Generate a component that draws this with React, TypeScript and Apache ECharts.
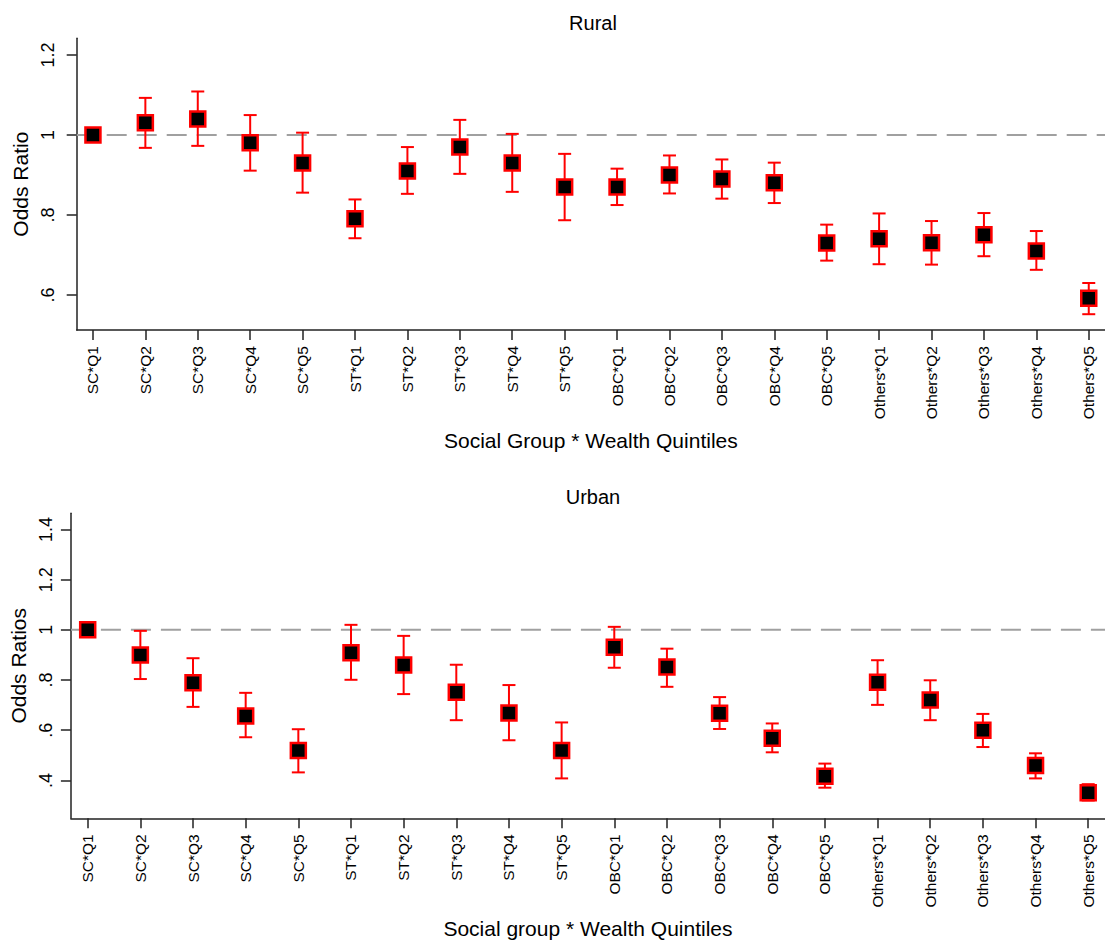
import React, { useEffect, useRef } from "react";
import * as echarts from "echarts";

const categories = [
  "SC*Q1", "SC*Q2", "SC*Q3", "SC*Q4", "SC*Q5",
  "ST*Q1", "ST*Q2", "ST*Q3", "ST*Q4", "ST*Q5",
  "OBC*Q1", "OBC*Q2", "OBC*Q3", "OBC*Q4", "OBC*Q5",
  "Others*Q1", "Others*Q2", "Others*Q3", "Others*Q4", "Others*Q5",
];

const ruralOR = [1.0, 1.031, 1.04, 0.981, 0.93, 0.791, 0.91, 0.97, 0.93, 0.87, 0.87, 0.9, 0.89, 0.881, 0.73, 0.741, 0.731, 0.751, 0.71, 0.592];
const ruralLow = [null, 0.968, 0.973, 0.911, 0.856, 0.742, 0.853, 0.903, 0.858, 0.787, 0.825, 0.854, 0.841, 0.83, 0.686, 0.677, 0.676, 0.697, 0.663, 0.552];
const ruralHigh = [null, 1.093, 1.109, 1.05, 1.006, 0.839, 0.97, 1.038, 1.003, 0.953, 0.916, 0.949, 0.939, 0.931, 0.776, 0.804, 0.785, 0.805, 0.76, 0.63];

const urbanOR = [1.0, 0.9, 0.789, 0.657, 0.519, 0.909, 0.86, 0.751, 0.669, 0.519, 0.931, 0.852, 0.668, 0.568, 0.417, 0.791, 0.72, 0.6, 0.459, 0.351];
const urbanLow = [null, 0.804, 0.693, 0.572, 0.432, 0.801, 0.744, 0.64, 0.56, 0.408, 0.849, 0.773, 0.605, 0.512, 0.371, 0.701, 0.64, 0.533, 0.408, 0.32];
const urbanHigh = [null, 0.996, 0.887, 0.749, 0.604, 1.02, 0.976, 0.861, 0.78, 0.631, 1.012, 0.925, 0.732, 0.627, 0.467, 0.879, 0.799, 0.665, 0.508, 0.385];

const ruralTicks = [0.6, 0.8, 1, 1.2];
const ruralTickLabels = [".6", ".8", "1", "1.2"];
const urbanTicks = [0.4, 0.6, 0.8, 1, 1.2, 1.4];
const urbanTickLabels = [".4", ".6", ".8", "1", "1.2", "1.4"];

const referenceValue = 1;
const FONT = "'Liberation Sans', Arial, Helvetica, sans-serif";
const positions = categories.map((_, i) => i + 1);

function tickLabel(ticks: number[], labels: string[]) {
  return (v: number) => {
    let best = 0;
    for (let i = 1; i < ticks.length; i++) {
      if (Math.abs(ticks[i] - v) < Math.abs(ticks[best] - v)) best = i;
    }
    return labels[best];
  };
}

function errorBarRender(params: any, api: any) {
  const x = api.value(0);
  const lo = api.coord([x, api.value(1)]);
  const hi = api.coord([x, api.value(2)]);
  const hw = 6.5;
  const style = { stroke: "#ff0000", lineWidth: 2 };
  return {
    type: "group",
    children: [
      { type: "line", shape: { x1: lo[0], y1: lo[1], x2: hi[0], y2: hi[1] }, style },
      { type: "line", shape: { x1: hi[0] - hw, y1: hi[1], x2: hi[0] + hw, y2: hi[1] }, style },
      { type: "line", shape: { x1: lo[0] - hw, y1: lo[1], x2: lo[0] + hw, y2: lo[1] }, style },
    ],
  };
}

export default function App() {
  const ref = useRef<HTMLDivElement>(null);
  useEffect(() => {
    if (!ref.current) return;
    const chart = echarts.init(ref.current, null, { renderer: "svg" });

    const panels = [
      {
        or: ruralOR, low: ruralLow, high: ruralHigh,
        ticks: ruralTicks, labels: ruralTickLabels,
        grid: { left: 76.7, top: 38.3, width: 1033.2, height: 291.7 },
        xmin: 0.69, xmax: 20.31, ymin: 0.5125, ymax: 1.242,
        yName: "Odds Ratio", xName: "Social Group * Wealth Quintiles",
        yLabelMargin: 20, yNameGap: 33,
      },
      {
        or: urbanOR, low: urbanLow, high: urbanHigh,
        ticks: urbanTicks, labels: urbanTickLabels,
        grid: { left: 69, top: 513.3, width: 1047.7, height: 305 },
        xmin: 0.681, xmax: 20.319, ymin: 0.249, ymax: 1.4645,
        yName: "Odds Ratios", xName: "Social group * Wealth Quintiles",
        yLabelMargin: 16, yNameGap: 38,
      },
    ];

    const axisLine = { show: true, lineStyle: { color: "#222", width: 1.5 } };
    const axisTickBase = { show: true, inside: false, length: 10, lineStyle: { color: "#222", width: 1.5 } };

    const grid = panels.map((p) => ({ ...p.grid, containLabel: false }));
    const xAxis = panels.map((p, k) => ({
      type: "value",
      gridIndex: k,
      min: p.xmin,
      max: p.xmax,
      axisLine,
      axisTick: { ...axisTickBase, customValues: positions },
      axisLabel: {
        customValues: positions,
        rotate: 90,
        margin: 16,
        fontSize: 15.5,
        color: "#000",
        fontFamily: FONT,
        formatter: (v: number) => categories[Math.round(v) - 1] ?? "",
      },
      splitLine: { show: false },
      name: p.xName,
      nameLocation: "middle",
      nameGap: 100,
      nameTextStyle: { fontSize: 21, color: "#000", fontFamily: FONT },
    }));
    const yAxis = panels.map((p, k) => ({
      type: "value",
      gridIndex: k,
      min: p.ymin,
      max: p.ymax,
      axisLine,
      axisTick: { ...axisTickBase, customValues: p.ticks },
      axisLabel: {
        customValues: p.ticks,
        rotate: 90,
        margin: p.yLabelMargin,
        fontSize: 18,
        color: "#000",
        fontFamily: FONT,
        formatter: tickLabel(p.ticks, p.labels),
      },
      splitLine: { show: false },
      name: p.yName,
      nameLocation: "middle",
      nameGap: p.yNameGap,
      nameTextStyle: { fontSize: 21, color: "#000", fontFamily: FONT },
    }));

    const series: any[] = [];
    panels.forEach((p, k) => {
      series.push({
        type: "line",
        xAxisIndex: k,
        yAxisIndex: k,
        data: [[p.xmin, referenceValue], [p.xmax, referenceValue]],
        symbol: "none",
        lineStyle: { color: "#a0a0a0", width: 2, type: [20, 10] },
        z: 1,
        silent: true,
      });
      const bars = p.or
        .map((_, i) => (p.low[i] == null ? null : [i + 1, p.low[i], p.high[i]]))
        .filter((d) => d != null);
      series.push({
        type: "custom",
        xAxisIndex: k,
        yAxisIndex: k,
        data: bars,
        encode: { x: 0, y: [1, 2] },
        renderItem: errorBarRender,
        z: 2,
        silent: true,
      });
      series.push({
        type: "scatter",
        xAxisIndex: k,
        yAxisIndex: k,
        data: p.or.map((v, i) => [i + 1, v]),
        symbol: "rect",
        symbolSize: 15,
        itemStyle: { color: "#000", borderColor: "#ff0000", borderWidth: 2.5, opacity: 1 },
        z: 3,
        silent: true,
      });
    });

    chart.setOption({
      animation: false,
      backgroundColor: "#fff",
      textStyle: { fontFamily: FONT },
      grid,
      xAxis,
      yAxis,
      series,
      graphic: [
        { type: "text", x: 593, y: 23, style: { text: "Rural", fontSize: 20, fill: "#000", fontFamily: FONT, textAlign: "center", textVerticalAlign: "middle" } },
        { type: "text", x: 593, y: 497, style: { text: "Urban", fontSize: 20, fill: "#000", fontFamily: FONT, textAlign: "center", textVerticalAlign: "middle" } },
      ],
    });
    return () => chart.dispose();
  }, []);
  return <div ref={ref} style={{ position: "absolute", left: 0, top: 0, width: 1105, height: 941 }} />;
}
